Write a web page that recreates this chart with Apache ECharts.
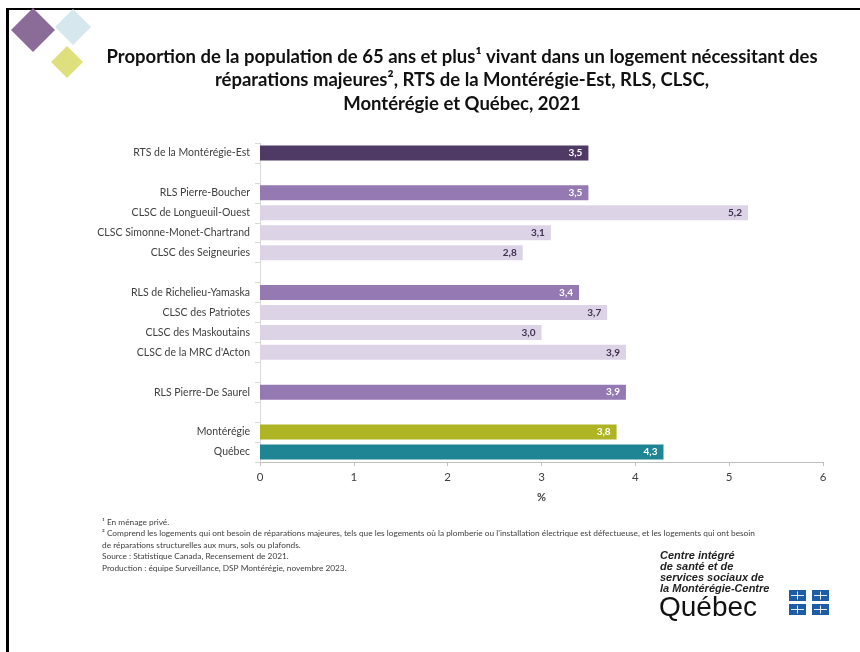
<!DOCTYPE html>
<html><head><meta charset="utf-8">
<script src="https://cdn.jsdelivr.net/npm/echarts@6/dist/echarts.min.js"></script>
<style>html,body{margin:0;padding:0;background:#fff}#c{width:860px;height:652px}</style>
</head><body><div id="c"></div>
<script>
const categories = ['RTS de la Montérégie-Est', '', 'RLS Pierre-Boucher', 'CLSC de Longueuil-Ouest', 'CLSC Simonne-Monet-Chartrand', 'CLSC des Seigneuries', '', 'RLS de Richelieu-Yamaska', 'CLSC des Patriotes', 'CLSC des Maskoutains', 'CLSC de la MRC d\'Acton', '', 'RLS Pierre-De Saurel', '', 'Montérégie', 'Québec'];
const values = [3.5, null, 3.5, 5.2, 3.1, 2.8, null, 3.4, 3.7, 3.0, 3.9, null, 3.9, null, 3.8, 4.3];
const levels = ['rts', '', 'rls', 'clsc', 'clsc', 'clsc', '', 'rls', 'clsc', 'clsc', 'clsc', '', 'rls', '', 'mont', 'qc'];
const xTicks = [0, 1, 2, 3, 4, 5, 6];
const titleLines = ['Proportion de la population de 65 ans et plus¹ vivant dans un logement nécessitant des', 'réparations majeures², RTS de la Montérégie-Est, RLS, CLSC,', 'Montérégie et Québec, 2021'];
const notes = ['¹ En ménage privé.', '² Comprend les logements qui ont besoin de réparations majeures, tels que les logements où la plomberie ou l\'installation électrique est défectueuse, et les logements qui ont besoin', 'de réparations structurelles aux murs, sols ou plafonds.', 'Source : Statistique Canada, Recensement de 2021.', 'Production : équipe Surveillance, DSP Montérégie, novembre 2023.'];
const logoLines = ['Centre intégré', 'de santé et de', 'services sociaux de', 'la Montérégie-Centre'];

const colorMap = {rts: '#4f3a66', rls: '#9579b3', clsc: '#dcd3e6', mont: '#aeb424', qc: '#1f8595'};
const labelColorMap = {rts: '#ffffff', rls: '#ffffff', clsc: '#403151', mont: '#ffffff', qc: '#ffffff'};

const data = values.map((v, i) => v == null ? '-' : {
  value: v,
  itemStyle: {color: colorMap[levels[i]]},
  label: {color: labelColorMap[levels[i]]}
});

const font = 'Lato, "Open Sans", sans-serif';
const graphics = [];
// frame
graphics.push({type: 'rect', shape: {x: 6, y: 8, width: 860, height: 2}, style: {fill: '#000'}});
graphics.push({type: 'rect', shape: {x: 6, y: 8, width: 3, height: 660}, style: {fill: '#000'}});
// diamonds
function diamond(cx, cy, h, color) {
  return {type: 'polygon', shape: {points: [[cx, cy - h], [cx + h, cy], [cx, cy + h], [cx - h, cy]]}, style: {fill: color}};
}
graphics.push(diamond(73, 27, 18, '#d6e7ee'));
graphics.push(diamond(33, 30, 22, '#8b6b98'));
graphics.push(diamond(67, 62, 16, '#dde07c'));
// title
titleLines.forEach((t, i) => graphics.push({type: 'text', x: 462, y: 57 + i * 23.5, style: {text: t, font: 'bold 18.5px ' + font, fill: '#111', align: 'center', verticalAlign: 'middle'}}));
// footnotes
notes.forEach((t, i) => graphics.push({type: 'text', x: 102, y: 522 + i * 11.6, style: {text: t, font: '8.3px ' + font, fill: '#404040', verticalAlign: 'middle'}}));
// logo
logoLines.forEach((t, i) => graphics.push({type: 'text', x: 660, y: 556 + i * 11, style: {text: t, font: 'italic bold 11px "Liberation Sans", Arial, sans-serif', fill: '#222', verticalAlign: 'middle'}}));
graphics.push({type: 'text', x: 659, y: 608, style: {text: 'Québec', font: '28px "Liberation Sans", Arial, sans-serif', fill: '#111', verticalAlign: 'middle'}});
[[789, 590], [812, 590], [789, 604], [812, 604]].forEach(([x, y]) => {
  graphics.push({type: 'rect', shape: {x: x, y: y, width: 17, height: 11}, style: {fill: '#1d5da6'}});
  graphics.push({type: 'rect', shape: {x: x + 2, y: y + 5, width: 13, height: 1}, style: {fill: '#e8eef8'}});
  graphics.push({type: 'rect', shape: {x: x + 8, y: y + 1.5, width: 1, height: 8}, style: {fill: '#e8eef8'}});
});

const chart = echarts.init(document.getElementById('c'));
chart.setOption({
  animation: false,
  backgroundColor: '#fff',
  grid: {left: 260, right: 37, top: 143, bottom: 190},
  xAxis: {
    type: 'value', min: 0, max: 6, interval: 1,
    name: '%', nameLocation: 'middle', nameGap: 30,
    nameTextStyle: {color: '#404040', fontFamily: font, fontSize: 11, fontWeight: 'bold'},
    axisLine: {show: true, lineStyle: {color: '#bfbfbf'}},
    axisTick: {show: true, length: 4, lineStyle: {color: '#bfbfbf'}},
    splitLine: {show: false},
    axisLabel: {color: '#404040', fontFamily: font, fontSize: 11.5, margin: 9, formatter: v => xTicks.includes(v) ? String(v) : ''}
  },
  yAxis: {
    type: 'category', data: categories, inverse: true,
    axisLine: {show: true, lineStyle: {color: '#d9d9d9'}},
    axisTick: {show: true, length: 5, lineStyle: {color: '#d9d9d9'}},
    axisLabel: {color: '#404040', fontFamily: font, fontSize: 10.5, margin: 10}
  },
  series: [{
    type: 'bar', data: data, barWidth: 15,
    label: {show: true, position: 'insideRight', distance: 6, fontFamily: font, fontSize: 10, fontWeight: 'bold',
      formatter: p => p.value.toFixed(1).replace('.', ',')}
  }],
  graphic: graphics
});
</script></body></html>
